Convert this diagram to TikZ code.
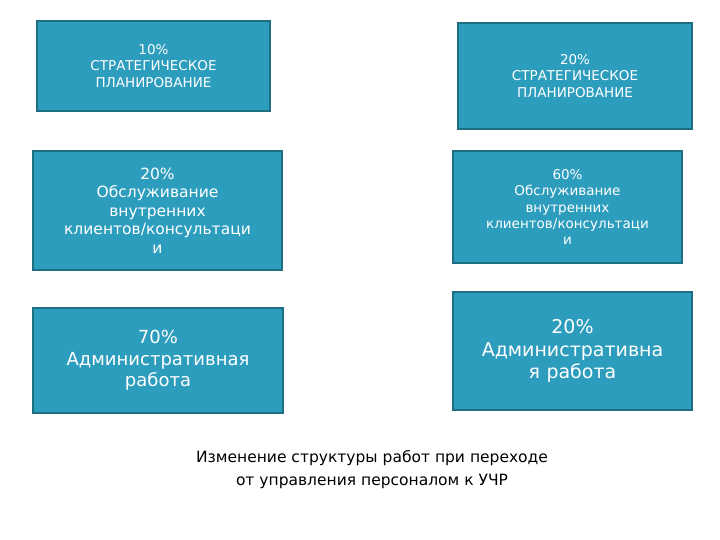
\documentclass[tikz,border=0pt]{standalone}
\usepackage{fontspec}
\setmainfont{DejaVu Sans}
\definecolor{boxfill}{HTML}{2D9DBE}
\definecolor{boxline}{HTML}{1D6E82}
\begin{document}
\begin{tikzpicture}[x=1pt,y=-1pt,
  box/.style={draw=boxline,line width=2.5pt,fill=boxfill,text=white,align=center,inner sep=0pt,font=\fontsize{#1}{1.2\dimexpr#1pt\relax}\selectfont},
  box/.default=14]
\useasboundingbox[fill=white] (0,0) rectangle (720,540);
\newcommand\bx[6]{\node[box=#6,minimum width=#3-#1,minimum height=#4-#2,text width=#3-#1-4] (#5) at ({(#1+#3)/2},{(#2+#4)/2})}
\bx{37}{21}{270}{111}{a1}{13.5}{10\%\\СТРАТЕГИЧЕСКОЕ\\ПЛАНИРОВАНИЕ};
\bx{458}{23}{692}{129}{b1}{13.5}{20\%\\СТРАТЕГИЧЕСКОЕ\\ПЛАНИРОВАНИЕ};
\bx{33}{151}{282}{270}{a2}{15.5}{20\%\\Обслуживание\\внутренних\\клиентов/консультаци\\и};
\bx{453}{151}{682}{263}{b2}{13.5}{60\%\\Обслуживание\\внутренних\\клиентов/консультаци\\и};
\bx{33}{308}{283}{413}{a3}{18}{70\%\\Административная\\работа};
\bx{453}{292}{692}{410}{b3}{19}{20\%\\Административна\\я работа};
\node[align=center,font=\fontsize{15.5}{23}\selectfont] (cap) at (372,470) {Изменение структуры работ при переходе\\от управления персоналом к УЧР};
\end{tikzpicture}
\end{document}
